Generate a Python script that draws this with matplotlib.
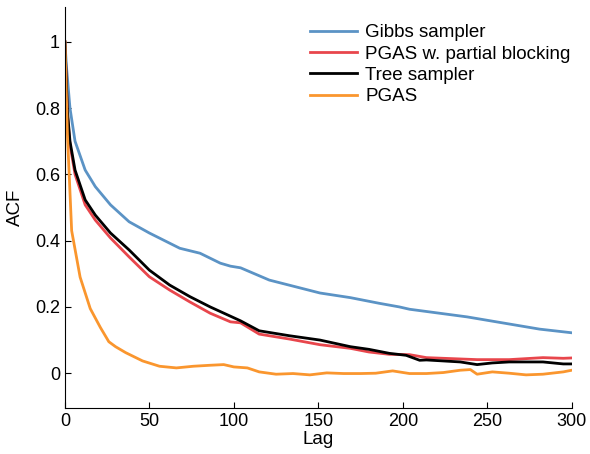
import matplotlib
matplotlib.use('Agg')
import matplotlib.pyplot as plt
from matplotlib.ticker import FuncFormatter

plt.rcParams['font.family'] = ['Liberation Sans', 'DejaVu Sans']

# values (lag, ACF)
gibbs_lag = [0, 1, 3, 6, 12, 18, 27, 38, 50, 68, 80, 92, 98, 104, 121, 151, 169, 186, 198, 204, 238, 281, 300]
gibbs_acf = [1.0, 0.92, 0.80, 0.70, 0.613, 0.563, 0.508, 0.457, 0.423, 0.377, 0.362, 0.332, 0.323, 0.318,
             0.281, 0.242, 0.228, 0.211, 0.200, 0.193, 0.170, 0.133, 0.122]

pgas_pb_lag = [0, 1.5, 3, 6, 12, 18, 27, 38, 50, 62, 74, 86, 98, 104, 115, 133, 151, 169, 180, 192, 204,
               214, 244, 263, 283, 295, 300]
pgas_pb_acf = [1.0, 0.78, 0.69, 0.60, 0.508, 0.462, 0.408, 0.351, 0.291, 0.251, 0.215, 0.181, 0.155, 0.152,
               0.118, 0.103, 0.086, 0.075, 0.064, 0.057, 0.056, 0.047, 0.041, 0.041, 0.047, 0.045, 0.046]

tree_lag = [0, 1.5, 3, 6, 12, 18, 27, 38, 50, 62, 74, 86, 98, 104, 115, 133, 151, 169, 180, 192, 202,
            210, 214, 234, 244, 253, 263, 283, 295, 300]
tree_acf = [1.0, 0.79, 0.70, 0.613, 0.523, 0.477, 0.423, 0.372, 0.311, 0.266, 0.231, 0.200, 0.172, 0.158,
            0.128, 0.113, 0.100, 0.080, 0.072, 0.060, 0.054, 0.039, 0.040, 0.034, 0.026, 0.031, 0.034,
            0.034, 0.028, 0.028]

pgas_lag = [0, 1.5, 4, 9, 15, 21, 26, 30, 36, 46, 56, 66, 76, 86, 94, 100, 108, 115, 125, 135, 145, 155,
            165, 175, 184, 194, 204, 214, 224, 234, 240, 244, 253, 263, 273, 283, 295, 300]
pgas_acf = [1.0, 0.72, 0.43, 0.29, 0.195, 0.138, 0.095, 0.080, 0.062, 0.037, 0.021, 0.016, 0.021, 0.024,
            0.026, 0.019, 0.016, 0.004, -0.003, -0.001, -0.005, 0.001, -0.001, -0.001, 0.0, 0.007,
            -0.001, -0.001, 0.002, 0.009, 0.011, -0.003, 0.004, 0.0, -0.005, -0.003, 0.004, 0.009]

fig = plt.figure(figsize=(5.9, 4.54), dpi=100)
ax = fig.add_axes([0.110, 0.1013, 0.859, 0.8833])

lw = 2.0
ax.plot(gibbs_lag, gibbs_acf, color='#5b93c5', lw=lw, label='Gibbs sampler')
ax.plot(pgas_pb_lag, pgas_pb_acf, color='#e8464c', lw=lw, label='PGAS w. partial blocking')
ax.plot(tree_lag, tree_acf, color='black', lw=lw, label='Tree sampler')
ax.plot(pgas_lag, pgas_acf, color='#fa962e', lw=lw, label='PGAS')

ax.set_xlim(0, 300)
ax.set_ylim(-0.105, 1.105)
ax.set_xticks([0, 50, 100, 150, 200, 250, 300])
ax.set_yticks([0, 0.2, 0.4, 0.6, 0.8, 1.0])
ax.yaxis.set_major_formatter(FuncFormatter(lambda v, p: '%g' % v))
ax.tick_params(direction='in', length=4, width=0.8, labelsize=13)

ax.spines['top'].set_visible(False)
ax.spines['right'].set_visible(False)

ax.set_xlabel('Lag', fontsize=13.5, labelpad=1)
ax.set_ylabel('ACF', fontsize=13.5, labelpad=8)

ax.legend(loc='upper right', bbox_to_anchor=(1.02, 0.985), frameon=False, fontsize=13.5,
          handlelength=2.5, handletextpad=0.45, labelspacing=0.22, borderaxespad=0.2)

fig.savefig('out.png', dpi=100)
